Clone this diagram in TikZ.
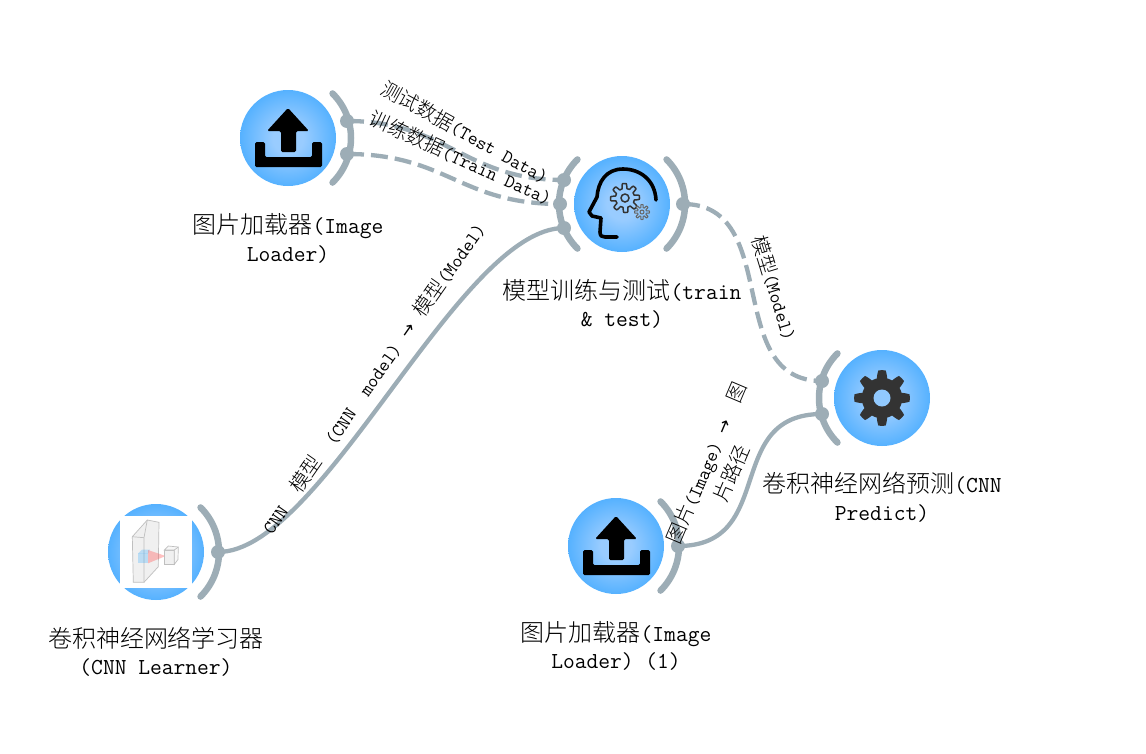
\documentclass[tikz,border=0pt]{standalone}
\usepackage{fontspec}
\usetikzlibrary{calc}
\newfontfamily\cjk{Noto Sans CJK SC Light}
\newfontfamily\sym{DejaVu Sans}
\newcommand{\zh}[1]{{\cjk\fontsize{24}{27.5}\selectfont #1}}
\newcommand{\zs}[1]{{\cjk\fontsize{20}{27}\selectfont #1}}
\newcommand{\arw}{{\sym\fontsize{17}{27}\selectfont →}}
\definecolor{linkgray}{HTML}{9DADB6}
\definecolor{bluecore}{HTML}{99CCFF}
\definecolor{blueedge}{HTML}{36A5FF}
\pgfdeclareradialshading{bluedisc}{\pgfpointorigin}{color(0bp)=(bluecore);color(8bp)=(bluecore);color(33bp)=(blueedge);color(50bp)=(blueedge)}
\tikzset{
  disc/.style={circle,minimum size=96pt,inner sep=0pt,shading=bluedisc},
  port/.style={circle,fill=linkgray,minimum size=14pt,inner sep=0pt},
  bracket/.style={draw=linkgray,line width=6.5pt,line cap=round},
  solidlink/.style={draw=linkgray,line width=4.3pt},
  dashlink/.style={draw=linkgray,line width=4.3pt,dash pattern=on 17pt off 7pt},
  title/.style={align=center,inner sep=0pt,font=\ttfamily\fontsize{22.86}{27.5}\selectfont},
  edgelabel/.style={align=center,inner sep=0pt,font=\ttfamily\fontsize{19.05}{27}\selectfont},
  trayicon/.style={fill=black,rounded corners=1.5pt},
  graybox/.style={draw=black!25,fill=black!6,line width=.7pt},
}
\newcommand{\uploadicon}[1]{%
  \begin{scope}[shift={(#1)}]
    \fill[trayicon] (-33,4) -- (-23,4) -- (-23,19) -- (24,19) -- (24,4) -- (34,4) -- (34,29) -- (-33,29) -- cycle;
    \fill[trayicon] (0,-30) -- (21,-7) -- (8,-7) -- (8,14) -- (-7,14) -- (-7,-7) -- (-21,-7) -- cycle;
  \end{scope}}
\begin{document}
\begin{tikzpicture}[x=1pt,y=-1pt]
\useasboundingbox (0,0) rectangle (1146,753);
% discs
\node[disc] (loaderA) at (288,138) {};
\node[disc] (train) at (622,204) {};
\node[disc] (predict) at (882,398) {};
\node[disc] (learner) at (156,552) {};
\node[disc] (loaderB) at (616,546) {};
% brackets
\draw[bracket] (loaderA.center) ++(45:63pt) arc[start angle=45,end angle=-45,radius=63pt];
\draw[bracket] (train.center) ++(135:63pt) arc[start angle=135,end angle=225,radius=63pt];
\draw[bracket] (train.center) ++(45:63pt) arc[start angle=45,end angle=-45,radius=63pt];
\draw[bracket] (predict.center) ++(135:63pt) arc[start angle=135,end angle=225,radius=63pt];
\draw[bracket] (learner.center) ++(45:63pt) arc[start angle=45,end angle=-45,radius=63pt];
\draw[bracket] (loaderB.center) ++(45:63pt) arc[start angle=45,end angle=-45,radius=63pt];
% ports
\node[port] (aTest) at (347,121) {};
\node[port] (aTrain) at (347,154) {};
\node[port] (tTest) at (564,180) {};
\node[port] (tTrain) at (560,204) {};
\node[port] (tModel) at (564,228) {};
\node[port] (tOut) at (683,204) {};
\node[port] (pModel) at (822,381) {};
\node[port] (pImage) at (822,414) {};
\node[port] (lOut) at (218,552) {};
\node[port] (bOut) at (678,546) {};
% connectors
\draw[dashlink] (aTest.center) .. controls +(100,0) and +(-100,0) .. (tTest.center);
\draw[dashlink] (aTrain.center) .. controls +(100,0) and +(-100,0) .. (tTrain.center);
\draw[dashlink] (tOut.center) .. controls +(100,0) and +(-100,0) .. (pModel.center);
\draw[solidlink] (lOut.center) .. controls +(105,0) and +(-105,0) .. (tModel.center);
\draw[solidlink] (bOut.center) .. controls +(100,0) and +(-100,0) .. (pImage.center);
% upload icons
\uploadicon{288,138}
\uploadicon{616,546}
% head icon
\draw[black,line width=3.6pt,line cap=round,line join=round]
  (656,200) .. controls (655,180) and (640,169) .. (623,169)
  .. controls (606,169) and (598,182) .. (597,197)
  -- (589,212) -- (592,216) -- (601,218) -- (600,232) .. controls (600,236) and (602,237) .. (605,237) -- (617,237);
\draw[black!80,line width=1.5pt,line join=round,shift={(625,198)}]
  plot[samples=193,domain=0:360] (\x:{12+2.5*max(-1,min(1,2.2*cos(8*\x+22)))}) -- cycle;
\draw[black!80,line width=1.5pt,shift={(625,198)}] (0,0) circle (4pt);
\draw[black!60,line width=1pt,line join=round,shift={(642,212)}]
  plot[samples=193,domain=0:360] (\x:{6+1.5*max(-1,min(1,2.2*cos(8*\x)))}) -- cycle;
\draw[black!60,line width=1pt,shift={(642,212)}] (0,0) circle (2pt);
% predict gear
\fill[black!80,line join=round,shift={(882,398)}]
  plot[samples=193,domain=0:360] (\x:{24+3.8*max(-1,min(1,2.0*cos(8*\x)))}) -- cycle;
\fill[bluecore!92!blueedge] (882,398) circle (8.5pt);
% learner image
\fill[white] (120,516) rectangle (192,588);
\fill[graybox] (147.3,520) -- (159,522.3) -- (158.3,566.7) -- (144,582.3) -- (133.3,582.3) -- (132.3,536.7) -- cycle;
\draw[black!25,line width=.7pt] (132.3,536.7) -- (144,537.7) -- (147.3,520) (144,537.7) -- (144,582.3);
\fill[blue!40!cyan,opacity=.22] (138.3,553.3) rectangle (148.3,562.7);
\fill[blue!40!cyan,opacity=.22] (138.3,553.3) -- (142,549.5) -- (150,549.5) -- (148.3,553.3) -- cycle;
\fill[red!60,opacity=.4] (148,550) -- (165.7,556) -- (148,563.3) -- cycle;
\filldraw[graybox] (164.3,550) rectangle (174.3,564.3);
\draw[black!25,line width=.7pt,fill=black!3] (164.3,550) -- (168.3,546) -- (178.3,547) -- (178,559.5) -- (174.3,564.3) -- (174.3,550) -- cycle;
\draw[black!25,line width=.7pt] (174.3,550) -- (178.3,547);
% titles
\node[title] (tA) at (288,238.5) {\zh{图片加载器}(Image\\Loader)};
\node[title] (tT) at (622,304) {\zh{模型训练与测试}(train\\\& test)};
\node[title] (tP) at (882,497.5) {\zh{卷积神经网络预测}(CNN\\Predict)};
\node[title] (tL) at (156,652) {\zh{卷积神经网络学习器}\\(CNN Learner)};
\node[title] (tB) at (616,646) {\zh{图片加载器}(Image\\Loader) (1)};
% edge labels
\node[edgelabel,rotate=-29] (eTest) at (465,132) {\zs{测试数据}(Test Data)};
\node[edgelabel,rotate=-24.5] (eTrain) at (461,158) {\zs{训练数据}(Train Data)};
\node[edgelabel,rotate=-73] (eModel) at (775,288) {\zs{模型}(Model)};
\node[edgelabel,rotate=55] (eCnn) at (373,378) {CNN\ \ \zs{模型}\ \ (CNN\ \ model)\ \hspace{2pt}\arw\hspace{2pt}\ \zs{模型}(Model)};
\node[edgelabel,rotate=67] (eImage) at (719,468) {\zs{图片}(Image)\ \arw\ \ \zs{图}\\\zs{片路径}};
\end{tikzpicture}
\end{document}
